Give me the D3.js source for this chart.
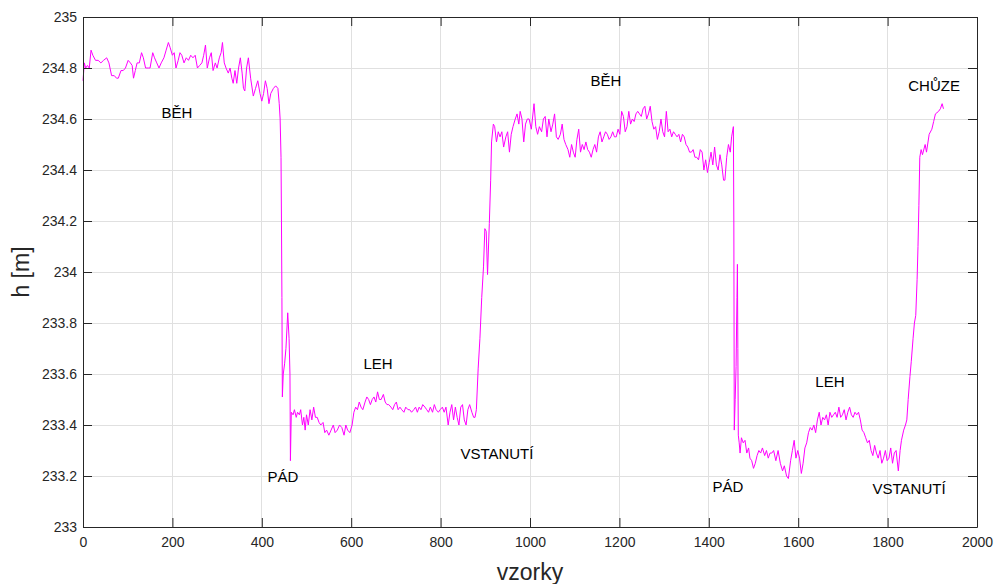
<!DOCTYPE html>
<html>
<head>
<meta charset="utf-8">
<script src="https://cdn.jsdelivr.net/npm/d3@7"></script>
<style>
  html, body { margin: 0; padding: 0; background: #fff; }
  svg { display: block; font-family: "Liberation Sans", Arial, Helvetica, sans-serif; }
</style>
</head>
<body>
<svg id="chart" width="998" height="584"></svg>
<script>
// ---- data ----
const samples = [0,3,6,10,14,18,22,28,34,40,46,53,58,64,70,75,79,85,90,95,101,106,110,113,117,121,126,131,135,140,146,150,156,160,165,170,175,181,186,191,195,200,204,208,213,217,221,226,231,236,241,246,251,256,261,266,270,274,278,283,287,291,296,300,305,309,312,316,320,325,329,333,336,340,344,348,352,356,359,362,366,370,375,381,386,391,396,400,404,408,412,416,420,426,431,436,439,441,443,444,445,446,448,451,454,458,461,463,464,466,470,473,477,480,484,487,491,494,497,500,504,508,512,516,520,524,528,532,537,541,545,550,555,560,564,569,574,579,584,588,592,597,602,606,610,614,618,622,626,631,635,639,643,647,651,655,659,663,667,672,676,680,684,689,693,697,701,705,709,713,718,722,727,731,735,740,744,748,752,756,760,765,769,773,777,782,786,790,795,799,804,808,812,817,821,825,829,833,837,841,845,849,853,857,861,865,870,874,877,880,884,888,892,896,899,902,905,909,912,914,918,921,925,929,933,937,941,946,950,954,958,962,967,971,975,978,982,986,990,994,998,1003,1009,1013,1017,1021,1026,1030,1034,1038,1042,1047,1051,1055,1059,1063,1068,1072,1076,1080,1085,1089,1093,1097,1101,1105,1109,1113,1117,1121,1125,1129,1133,1137,1141,1145,1149,1153,1157,1161,1165,1169,1173,1177,1181,1185,1189,1193,1197,1201,1205,1209,1213,1217,1221,1225,1229,1233,1237,1241,1245,1249,1253,1257,1261,1265,1269,1273,1277,1281,1285,1289,1293,1297,1301,1305,1309,1313,1317,1321,1325,1329,1333,1337,1341,1345,1349,1353,1357,1361,1365,1369,1373,1377,1381,1385,1389,1393,1397,1401,1405,1409,1413,1417,1421,1425,1429,1433,1436,1440,1444,1448,1451,1455,1456,1457,1459,1461,1463,1464,1465,1466,1468,1470,1473,1477,1481,1485,1489,1492,1496,1500,1504,1508,1512,1516,1520,1525,1529,1533,1537,1541,1545,1550,1555,1560,1565,1569,1574,1578,1583,1587,1591,1595,1599,1603,1607,1611,1615,1619,1623,1627,1631,1635,1639,1643,1647,1651,1655,1659,1663,1667,1671,1675,1679,1683,1687,1691,1695,1699,1703,1707,1711,1715,1719,1723,1727,1731,1735,1739,1743,1747,1751,1755,1759,1763,1767,1771,1775,1779,1783,1787,1791,1795,1799,1803,1807,1811,1815,1819,1824,1828,1831,1836,1840,1843,1846,1850,1853,1857,1860,1863,1866,1868,1870,1872,1875,1878,1884,1887,1893,1899,1903,1907,1914,1918,1922,1925];
const heights = [234.75,234.82,234.80,234.81,234.80,234.87,234.85,234.83,234.83,234.82,234.83,234.84,234.82,234.77,234.77,234.76,234.76,234.79,234.79,234.80,234.83,234.82,234.81,234.76,234.79,234.82,234.82,234.86,234.84,234.80,234.80,234.80,234.86,234.84,234.82,234.80,234.82,234.84,234.87,234.90,234.88,234.85,234.86,234.80,234.83,234.86,234.85,234.82,234.84,234.83,234.85,234.84,234.85,234.80,234.81,234.82,234.85,234.89,234.80,234.84,234.86,234.79,234.82,234.80,234.84,234.86,234.90,234.82,234.80,234.78,234.80,234.76,234.74,234.79,234.74,234.80,234.84,234.78,234.72,234.71,234.80,234.84,234.76,234.69,234.72,234.75,234.70,234.67,234.70,234.75,234.72,234.66,234.70,234.72,234.73,234.72,234.66,234.60,234.45,234.20,233.90,233.51,233.60,233.64,233.70,233.84,233.74,233.60,233.26,233.45,233.44,233.46,233.43,233.45,233.44,233.46,233.40,233.43,233.38,233.44,233.40,233.46,233.42,233.47,233.43,233.43,233.41,233.40,233.41,233.37,233.38,233.36,233.38,233.40,233.37,233.38,233.40,233.39,233.36,233.40,233.38,233.37,233.40,233.45,233.47,233.46,233.49,233.47,233.46,233.49,233.51,233.50,233.48,233.50,233.51,233.49,233.53,233.50,233.50,233.52,233.49,233.48,233.48,233.47,233.46,233.48,233.49,233.46,233.47,233.46,233.45,233.47,233.46,233.46,233.45,233.46,233.47,233.45,233.47,233.46,233.48,233.47,233.46,233.45,233.47,233.45,233.48,233.46,233.45,233.46,233.47,233.45,233.47,233.40,233.45,233.48,233.42,233.47,233.43,233.40,233.47,233.48,233.42,233.40,233.46,233.48,233.45,233.43,233.43,233.46,233.62,233.74,233.90,234.02,234.17,234.16,233.99,234.19,234.36,234.51,234.58,234.57,234.51,234.55,234.53,234.55,234.49,234.53,234.55,234.47,234.54,234.57,234.60,234.62,234.58,234.63,234.60,234.51,234.58,234.60,234.60,234.56,234.66,234.57,234.54,234.57,234.55,234.60,234.61,234.53,234.60,234.55,234.58,234.62,234.53,234.52,234.54,234.58,234.52,234.50,234.48,234.45,234.50,234.47,234.45,234.52,234.56,234.47,234.50,234.48,234.51,234.48,234.47,234.45,234.48,234.50,234.47,234.53,234.55,234.51,234.53,234.55,234.54,234.52,234.53,234.55,234.53,234.53,234.56,234.54,234.63,234.61,234.55,234.57,234.63,234.58,234.60,234.59,234.62,234.63,234.62,234.61,234.64,234.65,234.60,234.62,234.65,234.59,234.56,234.57,234.52,234.55,234.60,234.55,234.53,234.63,234.55,234.56,234.53,234.55,234.54,234.53,234.54,234.51,234.54,234.53,234.50,234.49,234.47,234.47,234.48,234.45,234.45,234.44,234.48,234.47,234.40,234.44,234.39,234.43,234.47,234.42,234.49,234.42,234.40,234.46,234.42,234.36,234.36,234.45,234.50,234.47,234.53,234.57,234.20,233.38,233.50,233.63,233.90,234.03,233.70,233.36,233.33,233.29,233.35,233.33,233.34,233.29,233.31,233.27,233.26,233.23,233.25,233.28,233.30,233.29,233.31,233.28,233.30,233.27,233.29,233.29,233.30,233.26,233.30,233.25,233.22,233.24,233.20,233.19,233.26,233.30,233.34,233.27,233.30,233.27,233.21,233.25,233.31,233.33,233.37,233.39,233.38,233.40,233.37,233.42,233.45,233.40,233.43,233.42,233.44,233.40,233.45,233.43,233.44,233.45,233.43,233.47,233.43,233.44,233.46,233.42,233.45,233.47,233.44,233.43,233.45,233.44,233.45,233.42,233.38,233.37,233.35,233.33,233.34,233.30,233.28,233.32,233.29,233.27,233.30,233.25,233.27,233.30,233.26,233.27,233.31,233.25,233.29,233.30,233.22,233.30,233.34,233.38,233.40,233.42,233.50,233.59,233.65,233.74,233.80,233.83,233.97,234.10,234.26,234.45,234.48,234.46,234.50,234.47,234.54,234.56,234.59,234.62,234.63,234.64,234.66,234.64];

const xTicks = [0,200,400,600,800,1000,1200,1400,1600,1800,2000];
const yTicks = [233,233.2,233.4,233.6,233.8,234,234.2,234.4,234.6,234.8,235];
const yTickLabels = ["233","233.2","233.4","233.6","233.8","234","234.2","234.4","234.6","234.8","235"];

const labelTexts = ["BĚH","PÁD","LEH","VSTANUTÍ","BĚH","CHŮZE","PÁD","LEH","VSTANUTÍ"];
const labelX = [210,447,660,926,1170,1904,1443,1671,1848];
const labelY = [234.624,233.20,233.64,233.29,234.75,234.73,233.16,233.57,233.15];

const xLabel = "vzorky";
const yLabel = "h [m]";

// ---- drawing ----
const svg = d3.select("#chart");
const L = 83, R = 977, T = 17, B = 527;
const x = d3.scaleLinear().domain([0, 2000]).range([L, R]);
const y = d3.scaleLinear().domain([233, 235]).range([B, T]);
const axisColor = "#262626";
const tickLen = 9;

// grid
const grid = svg.append("g");
grid.selectAll("line.gx").data(xTicks).join("line")
  .attr("x1", d => x(d)).attr("x2", d => x(d)).attr("y1", T).attr("y2", B)
  .attr("stroke", "#e0e0e0").attr("stroke-width", 1).attr("shape-rendering", "crispEdges");
grid.selectAll("line.gy").data(yTicks).join("line")
  .attr("y1", d => y(d)).attr("y2", d => y(d)).attr("x1", L).attr("x2", R)
  .attr("stroke", "#e0e0e0").attr("stroke-width", 1).attr("shape-rendering", "crispEdges");

// data line
const n = Math.min(samples.length, heights.length);
const pts = d3.range(n).map(i => [samples[i], heights[i]]);
const line = d3.line().x(d => x(d[0])).y(d => y(d[1]));
svg.append("path").datum(pts)
  .attr("d", line).attr("fill", "none")
  .attr("stroke", "#ff00ff").attr("stroke-width", 1).attr("stroke-linejoin", "round");

// axes (inward ticks)
const fmtY = d => { const k = yTicks.indexOf(d); return k >= 0 ? yTickLabels[k] : d; };
const gBottom = svg.append("g").attr("transform", `translate(0,${B})`)
  .call(d3.axisBottom(x).tickValues(xTicks).tickSizeInner(-tickLen).tickSizeOuter(0).tickPadding(10).tickFormat(d3.format("d")));
const gTop = svg.append("g").attr("transform", `translate(0,${T})`)
  .call(d3.axisTop(x).tickValues(xTicks).tickSizeInner(-tickLen).tickSizeOuter(0).tickFormat(""));
const gLeft = svg.append("g").attr("transform", `translate(${L},0)`)
  .call(d3.axisLeft(y).tickValues(yTicks).tickSizeInner(-tickLen).tickSizeOuter(0).tickPadding(6).tickFormat(fmtY));
const gRight = svg.append("g").attr("transform", `translate(${R},0)`)
  .call(d3.axisRight(y).tickValues(yTicks).tickSizeInner(-tickLen).tickSizeOuter(0).tickFormat(""));

[gBottom, gTop, gLeft, gRight].forEach(g => {
  g.select(".domain").attr("stroke", axisColor).attr("stroke-width", 1);
  g.selectAll(".tick line").attr("stroke", axisColor).attr("stroke-width", 1);
  g.selectAll(".tick text").attr("fill", axisColor)
    .style("font-size", "14px").style("font-family", "'Liberation Sans', Arial, sans-serif");
});

// annotations
svg.append("g").selectAll("text").data(labelTexts).join("text")
  .attr("x", (d, i) => x(labelX[i]))
  .attr("y", (d, i) => y(labelY[i]))
  .attr("text-anchor", "middle").attr("dominant-baseline", "central")
  .attr("fill", "#000").style("font-size", "15px")
  .text(d => d);

// axis labels
svg.append("text").attr("x", (L + R) / 2).attr("y", 580)
  .attr("text-anchor", "middle").attr("fill", axisColor)
  .style("font-size", "23px").text(xLabel);
svg.append("text").attr("transform", `translate(29,${(T + B) / 2}) rotate(-90)`)
  .attr("text-anchor", "middle").attr("fill", axisColor)
  .style("font-size", "23px").text(yLabel);
</script>
</body>
</html>
